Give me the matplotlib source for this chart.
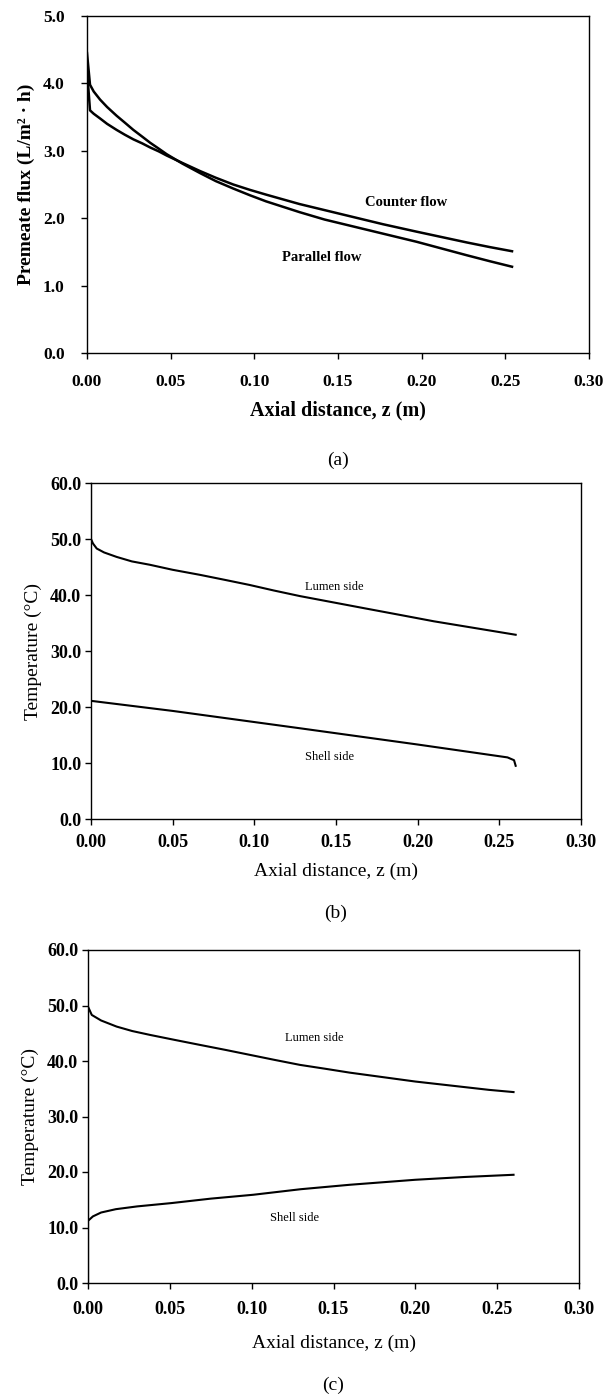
import matplotlib
matplotlib.use("Agg")
import matplotlib.pyplot as plt

plt.rcParams['font.family'] = ['Liberation Serif', 'DejaVu Serif']

# ---------------- Panel (a): permeate flux ----------------
z_parallel = [0.0, 0.0018, 0.004, 0.0078, 0.012, 0.0177, 0.0225, 0.0277, 0.033, 0.0377,
              0.043, 0.0476, 0.057, 0.0675, 0.077, 0.0874, 0.0974, 0.107, 0.117, 0.127,
              0.142, 0.157, 0.177, 0.197, 0.212, 0.227, 0.241, 0.254]
flux_parallel = [4.45, 3.98, 3.88, 3.76, 3.65, 3.52, 3.42, 3.31, 3.21, 3.12,
                 3.03, 2.95, 2.81, 2.67, 2.55, 2.44, 2.34, 2.25, 2.17, 2.09,
                 1.98, 1.89, 1.77, 1.65, 1.55, 1.45, 1.36, 1.28]
z_counter = [0.0, 0.0018, 0.004, 0.0078, 0.012, 0.0177, 0.0225, 0.0277, 0.033, 0.0377,
             0.043, 0.0476, 0.057, 0.0675, 0.077, 0.0874, 0.0974, 0.107, 0.117, 0.127,
             0.142, 0.157, 0.177, 0.197, 0.212, 0.227, 0.241, 0.254]
flux_counter = [4.2, 3.60, 3.55, 3.48, 3.40, 3.31, 3.24, 3.17, 3.11, 3.05,
                2.99, 2.93, 2.82, 2.70, 2.60, 2.50, 2.42, 2.35, 2.28, 2.21,
                2.12, 2.03, 1.91, 1.80, 1.72, 1.64, 1.57, 1.51]

# ---------------- Panel (b): parallel flow temperatures ----------------
z_b_lumen = [0.0, 0.0, 0.0012, 0.0035, 0.008, 0.0157, 0.025, 0.036, 0.05, 0.0667,
             0.082, 0.097, 0.112, 0.128, 0.148, 0.168, 0.19, 0.21, 0.235, 0.26]
T_b_lumen = [60.0, 50.0, 49.2, 48.3, 47.6, 46.8, 46.0, 45.4, 44.5, 43.6,
             42.7, 41.8, 40.8, 39.8, 38.7, 37.6, 36.4, 35.3, 34.1, 32.9]
z_b_shell = [0.0, 0.05, 0.128, 0.2, 0.255, 0.259, 0.26]
T_b_shell = [21.1, 19.3, 16.2, 13.3, 11.0, 10.5, 9.5]

# ---------------- Panel (c): counter flow temperatures ----------------
z_c_lumen = [0.0, 0.0, 0.0023, 0.008, 0.0175, 0.027, 0.0379, 0.053, 0.0684, 0.084,
             0.099, 0.114, 0.1295, 0.145, 0.16, 0.18, 0.2, 0.215, 0.23, 0.245, 0.26]
T_c_lumen = [0.0, 49.8, 48.3, 47.3, 46.2, 45.4, 44.7, 43.8, 42.9, 42.0,
             41.1, 40.2, 39.3, 38.6, 37.9, 37.1, 36.3, 35.8, 35.3, 34.8, 34.4]
z_c_shell = [0.0, 0.0, 0.003, 0.008, 0.017, 0.03, 0.051, 0.075, 0.101, 0.13,
             0.16, 0.2, 0.23, 0.26]
T_c_shell = [0.0, 11.2, 12.0, 12.7, 13.3, 13.8, 14.4, 15.2, 15.9, 16.9,
             17.7, 18.6, 19.1, 19.5]

x_ticks = [0.00, 0.05, 0.10, 0.15, 0.20, 0.25, 0.30]
x_ticklabels = ['0.00', '0.05', '0.10', '0.15', '0.20', '0.25', '0.30']
flux_ticks = [0.0, 1.0, 2.0, 3.0, 4.0, 5.0]
temp_ticks = [0.0, 10.0, 20.0, 30.0, 40.0, 50.0, 60.0]

W, H = 606, 1397
fig = plt.figure(figsize=(W / 100, H / 100), dpi=100)


def add_axes_px(left, top, right, bottom):
    return fig.add_axes([left / W, 1 - bottom / H, (right - left) / W, (bottom - top) / H])


def style(ax, yticks, tick_fs, xpad, ypad):
    ax.set_xlim(0, 0.30)
    ax.set_ylim(0, yticks[-1])
    ax.set_xticks(x_ticks)
    ax.set_xticklabels(x_ticklabels)
    ax.set_yticks(yticks)
    ax.set_yticklabels([f"{v:.1f}" for v in yticks])
    ax.tick_params(direction='out', length=4, width=1, top=False, right=False,
                   labelsize=tick_fs)
    ax.tick_params(axis='x', pad=xpad)
    ax.tick_params(axis='y', pad=ypad)
    for lab in ax.get_xticklabels() + ax.get_yticklabels():
        lab.set_fontweight('bold')
    for sp in ax.spines.values():
        sp.set_linewidth(1.0)
        sp.set_color('black')


# (a)
ax1 = add_axes_px(87, 16, 589, 353)
ax1.plot(z_parallel, flux_parallel, color='black', lw=1.8)
ax1.plot(z_counter, flux_counter, color='black', lw=1.8)
style(ax1, flux_ticks, 12.5, 11, 12)
ax1.set_ylabel('Premeate flux (L/m² · h)', fontsize=14, fontweight='bold', labelpad=6)
ax1.set_xlabel('Axial distance, z (m)', fontsize=14.5, fontweight='bold', labelpad=8)
ax1.text(0.191, 2.24, 'Counter flow', fontsize=10.5, fontweight='bold', ha='center', va='center')
ax1.text(0.140, 1.41, 'Parallel flow', fontsize=10.5, fontweight='bold', ha='center', va='center')
fig.text(338 / W, 1 - 460 / H, '(a)', fontsize=14, ha='center', va='center')

# (b)
ax2 = add_axes_px(91, 483, 581, 819)
ax2.plot(z_b_lumen, T_b_lumen, color='black', lw=1.5)
ax2.plot(z_b_shell, T_b_shell, color='black', lw=1.5)
style(ax2, temp_ticks, 13, 7, 3)
ax2.set_ylabel('Temperature (°C)', fontsize=14, labelpad=6)
ax2.set_xlabel('Axial distance, z (m)', fontsize=14, labelpad=8)
ax2.text(0.149, 41.5, 'Lumen side', fontsize=9, ha='center', va='center')
ax2.text(0.146, 11.1, 'Shell side', fontsize=9, ha='center', va='center')
fig.text(336 / W, 1 - 913 / H, '(b)', fontsize=14, ha='center', va='center')

# (c)
ax3 = add_axes_px(88, 950, 579, 1283)
ax3.plot(z_c_lumen, T_c_lumen, color='black', lw=1.5)
ax3.plot(z_c_shell, T_c_shell, color='black', lw=1.5)
style(ax3, temp_ticks, 13, 9, 3)
ax3.set_ylabel('Temperature (°C)', fontsize=14, labelpad=6)
ax3.set_xlabel('Axial distance, z (m)', fontsize=14, labelpad=12)
ax3.text(0.138, 44.1, 'Lumen side', fontsize=9, ha='center', va='center')
ax3.text(0.126, 11.7, 'Shell side', fontsize=9, ha='center', va='center')
fig.text(333 / W, 1 - 1385 / H, '(c)', fontsize=14, ha='center', va='center')

fig.savefig('out.png', dpi=100)
